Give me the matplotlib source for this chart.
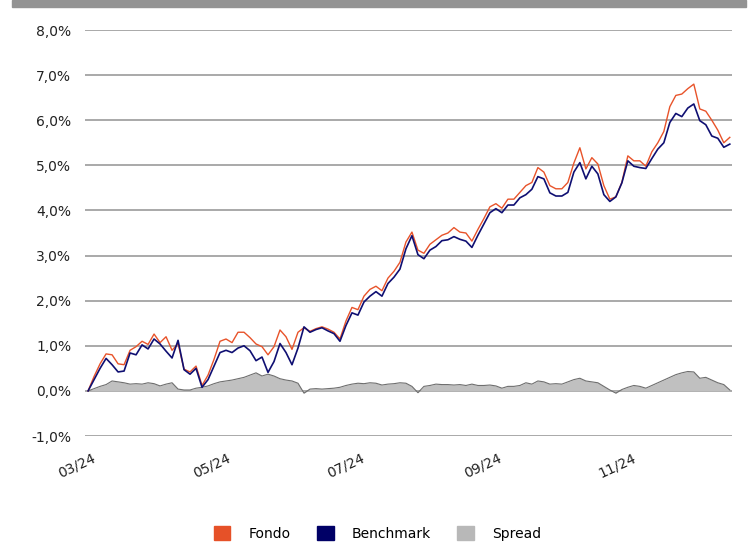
import numpy as np
import pandas as pd
import matplotlib
matplotlib.use("Agg")
import matplotlib.pyplot as plt
from matplotlib.patches import Patch, Rectangle
from matplotlib.ticker import FuncFormatter
from matplotlib.transforms import ScaledTranslation
import matplotlib.dates as mdates

plt.rcParams['font.family'] = ['DejaVu Sans']

# rendimenti cumulati (%)
fondo = [0.00, 0.32, 0.60, 0.82, 0.80, 0.60, 0.58, 0.90, 0.98, 1.10,
         1.03, 1.26, 1.07, 1.20, 0.90, 1.05, 0.48, 0.42, 0.55, 0.12,
         0.35, 0.70, 1.10, 1.15, 1.07, 1.30, 1.30, 1.18, 1.04, 0.98,
         0.80, 0.98, 1.35, 1.20, 0.92, 1.30, 1.40, 1.32, 1.38, 1.42,
         1.37, 1.30, 1.15, 1.55, 1.85, 1.80, 2.10, 2.25, 2.32, 2.22,
         2.50, 2.65, 2.85, 3.30, 3.52, 3.12, 3.05, 3.25, 3.35, 3.45,
         3.50, 3.62, 3.52, 3.50, 3.32, 3.58, 3.82, 4.08, 4.15, 4.05,
         4.25, 4.25, 4.40, 4.55, 4.62, 4.95, 4.85, 4.55, 4.48, 4.48,
         4.62, 5.05, 5.39, 4.92, 5.17, 5.03, 4.55, 4.25, 4.30, 4.62,
         5.21, 5.10, 5.10, 4.98, 5.30, 5.50, 5.75, 6.30, 6.55, 6.58,
         6.70, 6.80, 6.25, 6.20, 6.00, 5.78, 5.50, 5.62]

benchmark = [0.00, 0.25, 0.50, 0.72, 0.58, 0.42, 0.44, 0.84, 0.80, 1.02,
             0.93, 1.15, 1.04, 0.88, 0.73, 1.12, 0.47, 0.37, 0.50, 0.08,
             0.25, 0.55, 0.85, 0.90, 0.85, 0.95, 1.00, 0.89, 0.67, 0.75,
             0.41, 0.65, 1.05, 0.85, 0.58, 0.95, 1.42, 1.30, 1.36, 1.40,
             1.33, 1.27, 1.10, 1.45, 1.73, 1.68, 1.97, 2.10, 2.20, 2.10,
             2.38, 2.52, 2.70, 3.15, 3.44, 3.02, 2.93, 3.12, 3.20, 3.33,
             3.35, 3.42, 3.36, 3.32, 3.18, 3.45, 3.70, 3.95, 4.04, 3.95,
             4.12, 4.12, 4.28, 4.35, 4.47, 4.75, 4.70, 4.39, 4.32, 4.32,
             4.40, 4.85, 5.06, 4.70, 4.98, 4.81, 4.35, 4.20, 4.30, 4.61,
             5.10, 4.98, 4.95, 4.93, 5.15, 5.36, 5.50, 5.95, 6.15, 6.08,
             6.27, 6.36, 5.99, 5.90, 5.65, 5.60, 5.40, 5.47]

spread = [0.00, 0.05, 0.10, 0.14, 0.22, 0.20, 0.18, 0.15, 0.16, 0.15,
          0.18, 0.16, 0.11, 0.15, 0.18, 0.04, 0.02, 0.02, 0.06, 0.08,
          0.11, 0.16, 0.20, 0.22, 0.24, 0.27, 0.30, 0.35, 0.40, 0.33,
          0.37, 0.33, 0.27, 0.24, 0.22, 0.17, -0.05, 0.04, 0.05, 0.04,
          0.05, 0.06, 0.08, 0.12, 0.15, 0.17, 0.16, 0.18, 0.17, 0.13,
          0.15, 0.16, 0.18, 0.17, 0.10, -0.04, 0.10, 0.12, 0.15, 0.14,
          0.14, 0.13, 0.14, 0.12, 0.15, 0.12, 0.12, 0.13, 0.11, 0.06,
          0.10, 0.10, 0.12, 0.18, 0.15, 0.22, 0.20, 0.15, 0.16, 0.15,
          0.20, 0.25, 0.28, 0.22, 0.20, 0.18, 0.10, 0.02, -0.05, 0.03,
          0.08, 0.12, 0.10, 0.06, 0.12, 0.18, 0.24, 0.30, 0.36, 0.40,
          0.43, 0.42, 0.28, 0.30, 0.24, 0.18, 0.14, 0.02]

date_start = "2024-03-01"
date_end = "2024-12-17"
date_ticks = ["2024-03-01", "2024-05-01", "2024-07-01", "2024-09-01", "2024-11-01"]
y_ticks = [-1, 0, 1, 2, 3, 4, 5, 6, 7, 8]

dates = pd.date_range(date_start, date_end, periods=len(fondo))

c_fondo = '#e8532a'
c_bench = '#0f0f72'
c_spread = '#c0c0c0'

fig = plt.figure(figsize=(7.55, 5.46), dpi=100)
# banda grigia in alto
fig.patches.append(Rectangle((12 / 755, 1 - 7 / 546), 734 / 755, 7 / 546,
                             transform=fig.transFigure, color='#939393', zorder=0))

ax = fig.add_axes([85 / 755, 1 - 436 / 546, 647 / 755, 406 / 546])

ax.fill_between(dates, 0, spread, color=c_spread, lw=0, zorder=2)
ax.plot(dates, spread, color='#6e6e6e', lw=0.8, zorder=3)
ax.plot(dates, fondo, color=c_fondo, lw=1.0, zorder=4)
ax.plot(dates, benchmark, color=c_bench, lw=1.2, zorder=5)

ax.set_ylim(-1, 8)
ax.set_yticks(y_ticks)
ax.yaxis.set_major_formatter(FuncFormatter(lambda v, p: f"{v:.1f}%".replace('.', ',')))
ax.set_xlim(pd.Timestamp(date_start) - pd.Timedelta(days=1.4),
            pd.Timestamp(date_end) + pd.Timedelta(days=1))
ax.set_xticks(pd.to_datetime(date_ticks))
ax.xaxis.set_major_formatter(mdates.DateFormatter('%m/%y'))

ax.grid(axis='y', color='#a3a3a3', lw=1.3, zorder=1)
ax.grid(axis='x', visible=False)
for s in ax.spines.values():
    s.set_visible(False)
ax.tick_params(axis='both', length=0, labelsize=10, colors='#222222')
ax.tick_params(axis='y', pad=10)
ax.tick_params(axis='x', pad=11)
shift = ScaledTranslation(4 / 100, 0, fig.dpi_scale_trans)
for lbl in ax.get_xticklabels():
    lbl.set_rotation(25)
    lbl.set_ha('right')
    lbl.set_va('top')
    lbl.set_rotation_mode('anchor')
    lbl.set_transform(lbl.get_transform() + shift)

handles = [Patch(color='#e65128', label='Fondo'),
           Patch(color='#000066', label='Benchmark'),
           Patch(color='#b8b8b8', label='Spread')]
fig.legend(handles=handles, loc='lower center', bbox_to_anchor=(0.5, -0.013), ncol=3,
           frameon=False, fontsize=10, handlelength=1.2, handleheight=1.1,
           handletextpad=1.3, columnspacing=1.9)

fig.savefig('out.png', dpi=100)
